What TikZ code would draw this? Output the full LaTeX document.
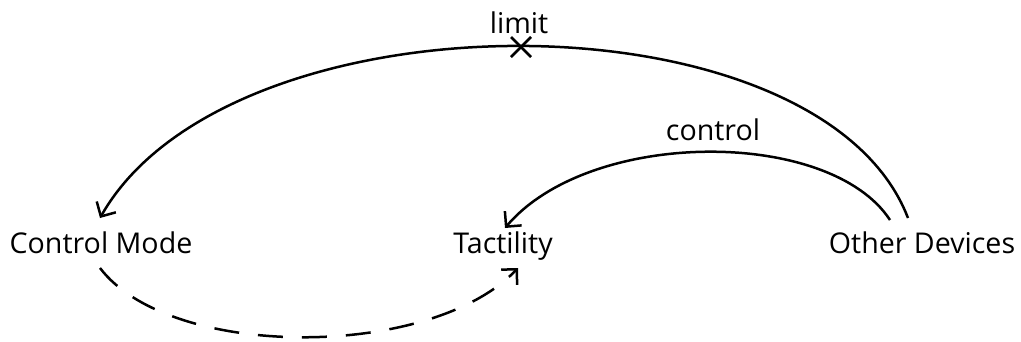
\documentclass[tikz,border=0pt]{standalone}
\usepackage{fontspec}
\setmainfont{Open Sans}
\usetikzlibrary{arrows.meta}
\begin{document}
\begin{tikzpicture}[x=1pt,y=-1pt,
  lbl/.style={inner sep=0pt,anchor=base,font=\fontsize{28.6}{30}\selectfont},
  conn/.style={line width=2.5pt,-{Straight Barb[length=11pt,width=22pt,line width=2.5pt]}},
  dashconn/.style={conn,dash pattern=on 25pt off 19pt}]
\useasboundingbox (0,0) rectangle (1021,341);
\node[lbl] (cm) at (101,253) {Control Mode};
\node[lbl] (ta) at (503,253) {Tactility};
\node[lbl] (od) at (922,253) {Other Devices};
\node[lbl] (lim) at (519,33) {limit};
\node[lbl] (ctl) at (713,140) {control};
\coordinate (a1) at (908,218);
\coordinate (a2) at (100,218);
\coordinate (b1) at (890,220);
\coordinate (b2) at (505,228);
\coordinate (c1) at (100,268);
\coordinate (c2) at (518,268);
\coordinate (x) at (521,47);
\draw[conn] (a1) .. controls (820,-11) and (230,-11) .. (a2);
\draw[conn] (b1) .. controls (830,128) and (590,128) .. (b2);
\draw[dashconn] (c1) .. controls (170,360) and (430,360) .. (c2);
\draw[line width=2.5pt] ([shift={(-10,-10)}]x) -- ([shift={(10,10)}]x) ([shift={(-10,10)}]x) -- ([shift={(10,-10)}]x);
\end{tikzpicture}
\end{document}
